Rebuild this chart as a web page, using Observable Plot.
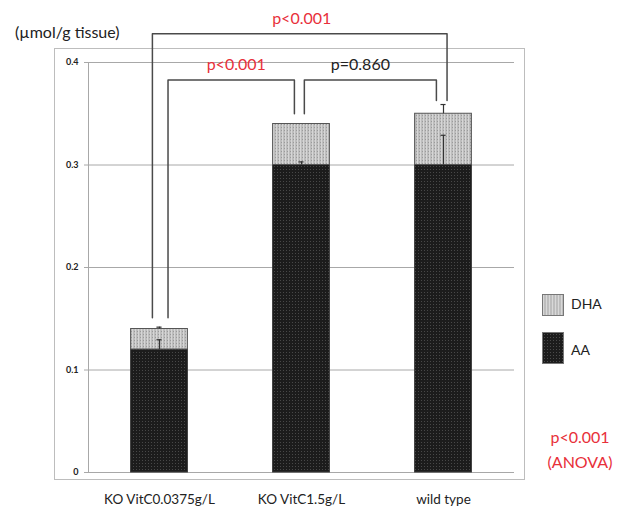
<!DOCTYPE html>
<html><head><meta charset="utf-8">
<script src="https://cdn.jsdelivr.net/npm/d3@7"></script>
<script src="https://cdn.jsdelivr.net/npm/@observablehq/plot@0.6"></script>
<style>
body{margin:0;background:#fff;font-family:Lato,sans-serif}
#wrap{position:relative;width:624px;height:509px;overflow:hidden}
#wrap svg{position:absolute;left:0;top:0}
.t{position:absolute;white-space:nowrap;line-height:1}
.sw{position:absolute;border:1px solid #777;box-sizing:border-box}
</style></head><body><div id="wrap"></div>
<script>
// ---- data ----
const groups = ["KO VitC0.0375g/L", "KO VitC1.5g/L", "wild type"];
const aa = [0.12, 0.30, 0.30];
const dha = [0.02, 0.04, 0.05];
const aaErr = [0.0095, 0.003, 0.029];
const totalErr = [0.0018, 0, 0.009];
const yTicks = [0, 0.1, 0.2, 0.3, 0.4];
const seriesNames = ["DHA", "AA"];
// significance brackets (group indices, y values in data units)
const bracketLabels = ["p<0.001", "p<0.001", "p=0.860"];
const bracketFrom = [0, 0, 1];
const bracketTo = [2, 1, 2];
const bracketTop = [0.428, 0.383, 0.383];
const bracketFromEnd = [0.151, 0.151, 0.350];
const bracketToEnd = [0.363, 0.350, 0.363];
const anovaText = ["p<0.001", "(ANOVA)"];
const yUnit = "(\u00b5mol/g tissue)";

// ---- layout ----
const FONT = "Lato, sans-serif";
const legOff = [[-0.05, 0.025], [0.06, -0.05], [0.02, -0.05]];
const labelDx = [2, 5, -10];
const labelColors = ["#e8303a", "#e8303a", "#222"];
const halfW = 0.2, capW = 0.018;

const bars = groups.map((g, i) => ({i, aa: aa[i], tot: aa[i] + dha[i]}));
const errs = groups.map((g, i) => [
  {i, y1: aa[i], y2: aa[i] + aaErr[i]},
  {i, y1: aa[i] + dha[i], y2: aa[i] + dha[i] + totalErr[i]}
]).flat().filter(d => d.y2 > d.y1);

const bracketPts = [];
const bracketText = [];
bracketLabels.forEach((lab, k) => {
  const xa = bracketFrom[k] + legOff[k][0], xb = bracketTo[k] + legOff[k][1];
  bracketPts.push({k, x: xa, y: bracketFromEnd[k]}, {k, x: xa, y: bracketTop[k]},
                  {k, x: xb, y: bracketTop[k]}, {k, x: xb, y: bracketToEnd[k]});
  bracketText.push({k, x: (xa + xb) / 2, y: bracketTop[k] + 0.0145, lab});
});

const chart = Plot.plot({
  width: 624, height: 509,
  marginLeft: 88, marginRight: 110, marginTop: 62, marginBottom: 37,
  style: {fontFamily: FONT, color: "#222", background: "#fff", overflow: "visible"},
  x: {type: "linear", domain: [-0.5, 2.5]},
  y: {domain: [0, 0.4]},
  marks: [
    Plot.frame({stroke: "#bdbdbd", insetLeft: -34, insetTop: -14, insetRight: -10, insetBottom: -7}),
    Plot.ruleY(yTicks, {stroke: "#a8a8a8", insetLeft: -4}),
    Plot.ruleX([-0.5], {y1: 0, y2: 0.4, stroke: "#a8a8a8"}),
    Plot.rectY(bars, {x1: d => d.i - halfW, x2: d => d.i + halfW, y1: 0, y2: "aa", fill: "url(#patAA)", stroke: "#3a3a3a", strokeWidth: 1}),
    Plot.rectY(bars, {x1: d => d.i - halfW, x2: d => d.i + halfW, y1: "aa", y2: "tot", fill: "url(#patDHA)", stroke: "#555", strokeWidth: 1}),
    Plot.ruleX(errs, {x: "i", y1: "y1", y2: "y2", stroke: "#333", strokeWidth: 1.2}),
    Plot.ruleY(errs, {y: "y2", x1: d => d.i - capW, x2: d => d.i + capW, stroke: "#333", strokeWidth: 1.2}),
    Plot.line(bracketPts, {x: "x", y: "y", z: "k", stroke: "#4a4a4a", strokeWidth: 1.5}),
    Plot.text(bracketText, {x: "x", y: "y", text: "lab", fill: d => labelColors[d.k], fontSize: 16, fontWeight: "normal"}),
    Plot.axisY({ticks: yTicks, tickSize: 0, tickPadding: 10, fontSize: 9, fontWeight: "bold", tickFormat: d => d === 0 ? "0" : d.toFixed(1), label: null}),
    Plot.axisX({ticks: [0, 1, 2], tickSize: 0, tickPadding: 22, fontSize: 13.5, tickFormat: i => groups[i], label: null})
  ]
});

const wrap = document.getElementById("wrap");
wrap.appendChild(chart);

d3.select(chart).insert("defs", ":first-child").html(`
  <pattern id="patAA" width="3" height="3" patternUnits="userSpaceOnUse">
    <rect width="3" height="3" fill="#1c1c1c"/>
    <rect x="1" y="1" width="1" height="1" fill="#484848"/>
  </pattern>
  <pattern id="patDHA" width="3" height="3" patternUnits="userSpaceOnUse">
    <rect width="3" height="3" fill="#bdbdbd"/>
    <rect x="0" y="0" width="1" height="3" fill="#d6d6d6"/>
    <rect x="2" y="1" width="1" height="1" fill="#9a9a9a"/>
  </pattern>`);

// nudge bracket labels
d3.select(chart).selectAll("g[aria-label='text'] text").each(function(d, j){
  const t = this.getAttribute("transform") || "";
  this.setAttribute("transform", t + ` translate(${labelDx[j] || 0},0)`);
});

function addText(txt, left, top, size, color, extra) {
  const el = document.createElement("div");
  el.className = "t"; el.textContent = txt;
  el.style.left = left + "px"; el.style.top = top + "px";
  el.style.fontSize = size + "px"; el.style.color = color;
  if (extra) Object.assign(el.style, extra);
  wrap.appendChild(el);
}
addText(yUnit, 15, 24, 16, "#222");
function sw(left, top, w, h, bg) {
  const el = document.createElement("div");
  el.className = "sw"; el.style.left = left + "px"; el.style.top = top + "px";
  el.style.width = w + "px"; el.style.height = h + "px"; el.style.background = bg;
  wrap.appendChild(el);
}
sw(542, 294, 22, 22, "repeating-linear-gradient(90deg,#d8d8d8 0 1px,#bdbdbd 1px 3px)");
sw(542, 332, 22, 32, "radial-gradient(#4a4a4a 0.6px, #1c1c1c 0.9px) 0 0/3px 3px");
addText(seriesNames[0], 571, 297, 14, "#222");
addText(seriesNames[1], 571, 343, 14, "#222");
addText(anovaText[0], 540, 429, 16, "#e8303a", {width: "80px", textAlign: "center"});
addText(anovaText[1], 540, 454, 16, "#e8303a", {width: "80px", textAlign: "center"});
</script></body></html>
